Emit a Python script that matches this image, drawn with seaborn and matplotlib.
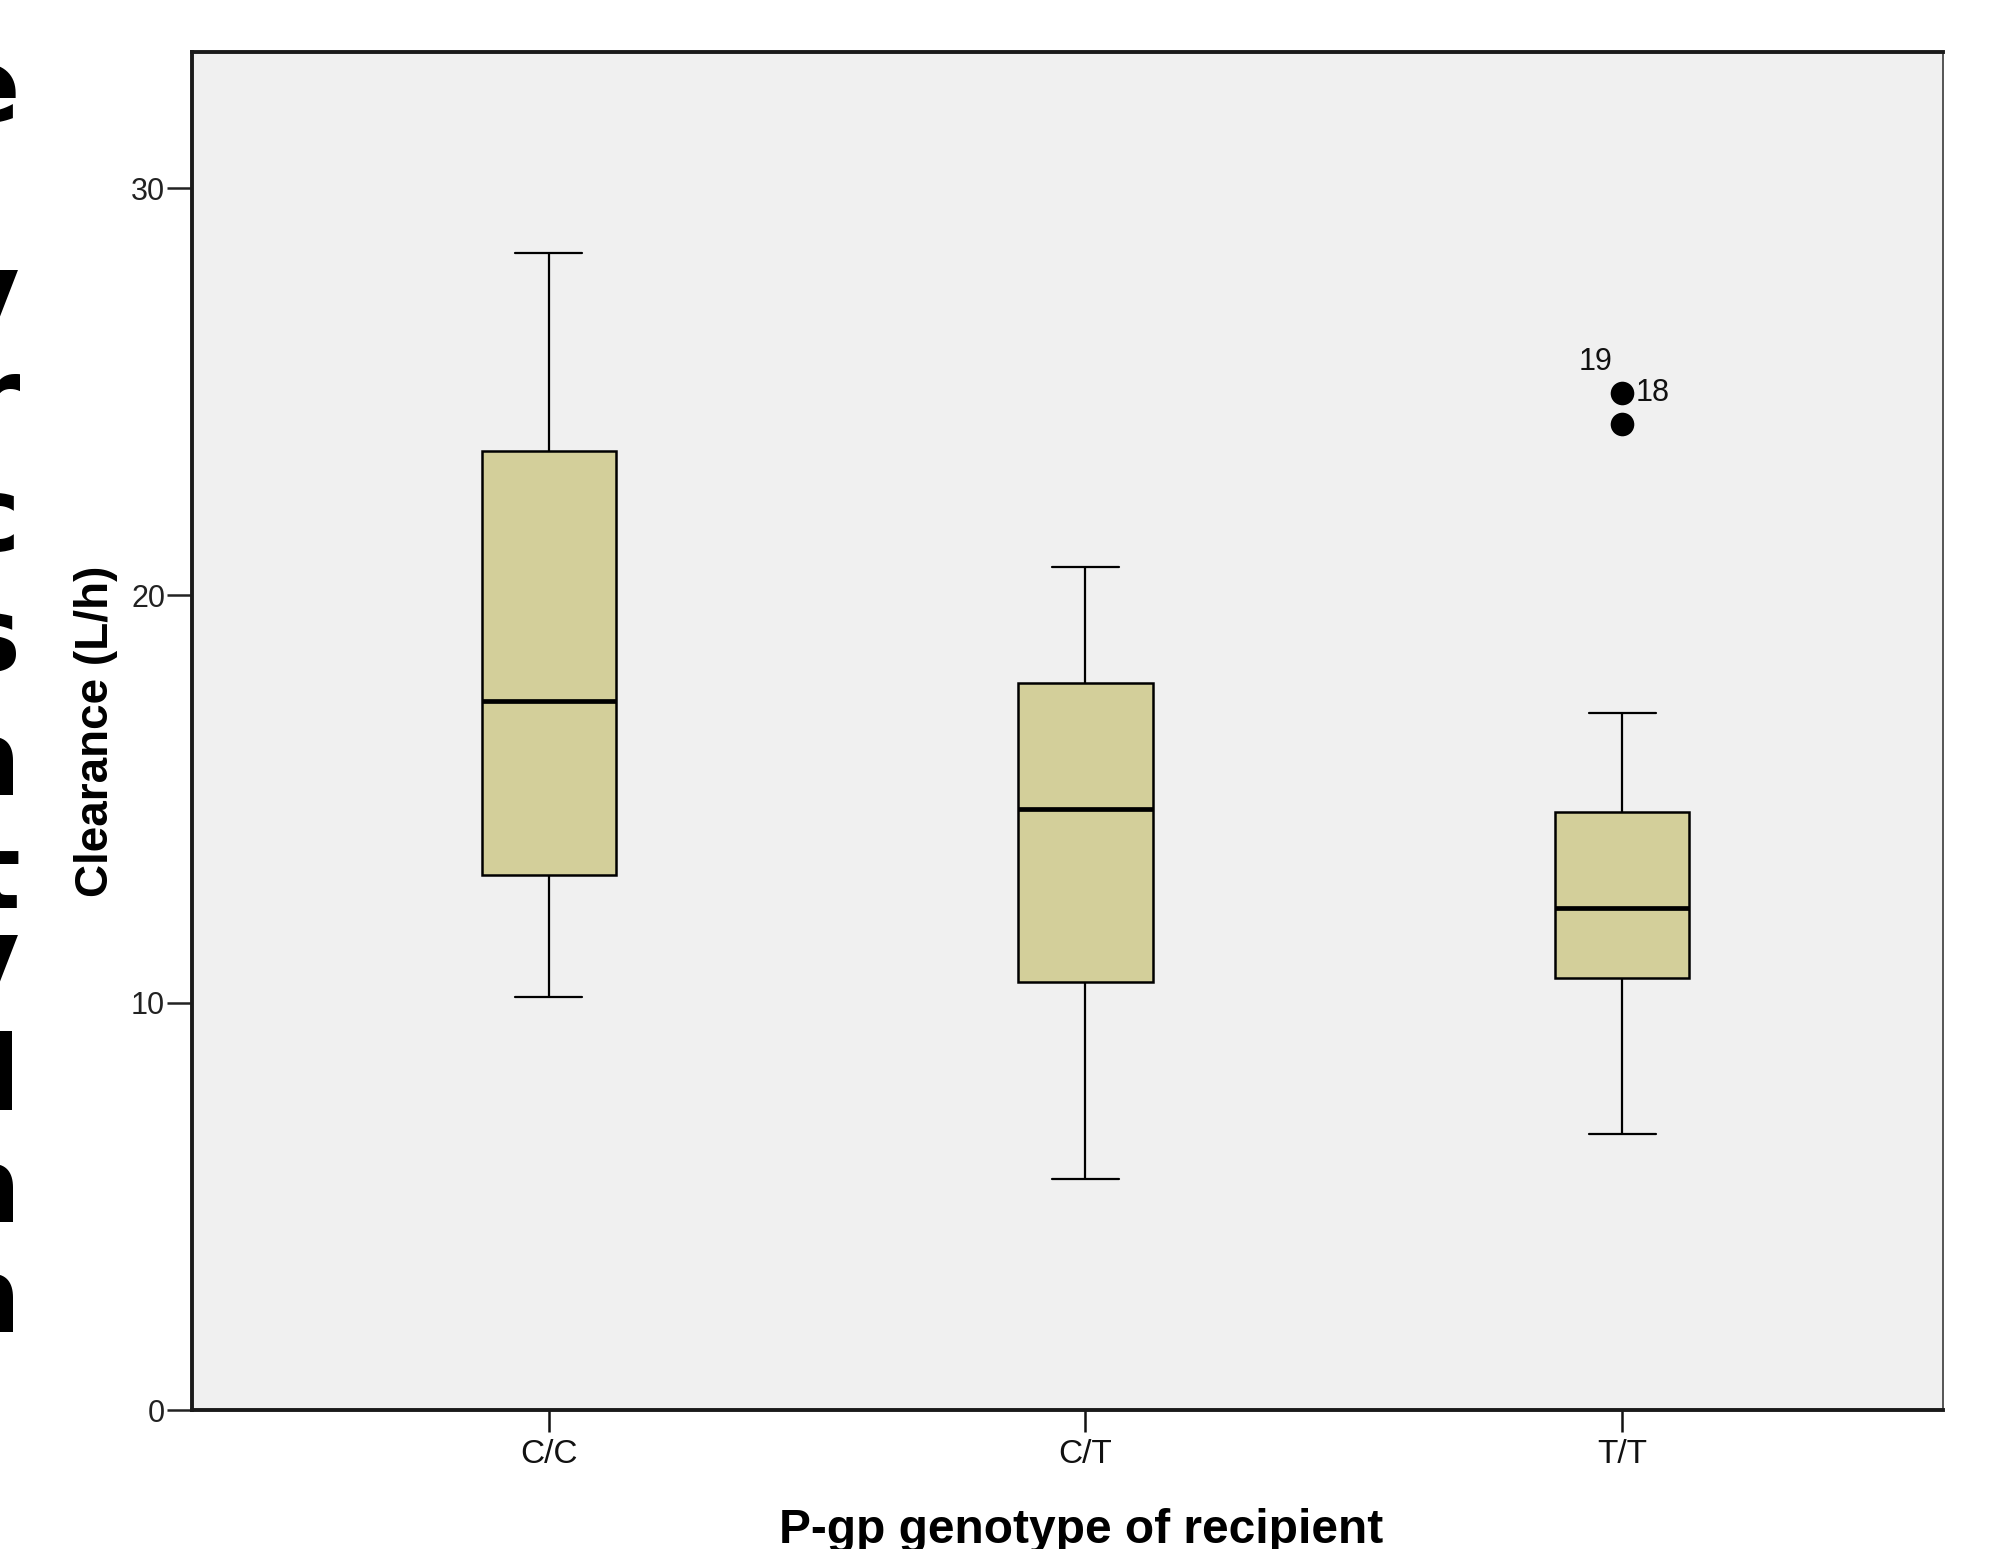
import numpy as np
import pandas as pd
import matplotlib
matplotlib.use("Agg")
import matplotlib.pyplot as plt
import seaborn as sns

# five-number summaries (L/h)
genotypes = ["C/C", "C/T", "T/T"]
whisker_low = [10.13, 5.67, 6.77]
q1 = [13.13, 10.50, 10.60]
median = [17.40, 14.76, 12.32]
q3 = [23.54, 17.84, 14.67]
whisker_high = [28.40, 20.69, 17.12]

# outliers of the T/T group and their case numbers
outlier_group = ["T/T", "T/T"]
outlier_values = [24.98, 24.20]
outlier_ids = ["18", "19"]

# letters of the cropped page text at the left edge
edge_letters = ["e", "y", "r", "c", "s", "n", "t", "y", "l", "n", "n"]
edge_baselines = [122, 327, 432, 551, 671, 795, 908, 992, 1110, 1222, 1332]

rows = []
for i, g in enumerate(genotypes):
    for v in (whisker_low[i], q1[i], median[i], q3[i], whisker_high[i]):
        rows.append({"genotype": g, "clearance": v})
df = pd.DataFrame(rows)
out_df = pd.DataFrame({"genotype": outlier_group, "clearance": outlier_values})

sns.set_style("ticks")
plt.rcParams["font.family"] = ["Liberation Sans", "DejaVu Sans"]

W, H = 2002, 1549
fig = plt.figure(figsize=(W / 100, H / 100), dpi=100)
fig.patch.set_facecolor("white")
ax = fig.add_axes([191.5 / W, 1 - 1410 / H, (1943 - 191.5) / W, (1410 - 52) / H])
ax.set_facecolor("#f0f0f0")

sns.boxplot(data=df, x="genotype", y="clearance", order=genotypes, width=0.25,
            color="#d3cf9a", saturation=1, linecolor="black", linewidth=1.8,
            whis=1.5, fliersize=0, ax=ax,
            medianprops=dict(linewidth=3.4, color="black"),
            whiskerprops=dict(linewidth=1.6),
            capprops=dict(linewidth=1.6))

sns.stripplot(data=out_df, x="genotype", y="clearance", order=genotypes,
              jitter=False, color="black", size=17, linewidth=0, ax=ax)

tt = genotypes.index("T/T")
ax.annotate(outlier_ids[0], (tt, outlier_values[0]), xytext=(10, 0),
            textcoords="offset points", ha="left", va="center", fontsize=22,
            color="#111111")
ax.annotate(outlier_ids[1], (tt, outlier_values[1]), xytext=(-7, 45),
            textcoords="offset points", ha="right", va="center", fontsize=22,
            color="#111111")

ax.set_xlim(-0.666, 2.598)
ax.set_ylim(0, 33.34)
ax.set_yticks([0, 10, 20, 30])
ax.tick_params(axis="y", length=18, width=1.8, pad=1, labelsize=22,
               colors="#222222")
ax.tick_params(axis="x", length=16, width=1.8, pad=5, labelsize=24,
               colors="#111111")

for side in ["left", "top", "bottom"]:
    ax.spines[side].set_linewidth(2.8)
    ax.spines[side].set_color("#1a1a1a")
ax.spines["right"].set_linewidth(1.4)
ax.spines["right"].set_color("#555555")

ax.set_ylabel("Clearance (L/h)", fontsize=33, fontweight="bold", labelpad=9,
              color="black")
ax.set_xlabel("P-gp genotype of recipient", fontsize=34.5, fontweight="bold",
              color="black")
ax.xaxis.set_label_coords(0.508, -0.072)

for letter, base in zip(edge_letters, edge_baselines):
    fig.text(20 / W, 1 - base / H, letter, ha="right", va="baseline",
             fontsize=75, fontweight="bold", family="DejaVu Sans",
             color="black")

fig.savefig("out.png", dpi=100)
